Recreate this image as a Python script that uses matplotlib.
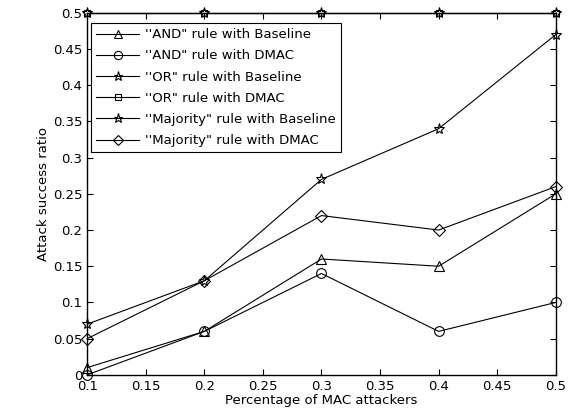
import matplotlib
matplotlib.use("Agg")
import matplotlib.pyplot as plt

# percentage of MAC attackers
x_vals = [0.1, 0.2, 0.3, 0.4, 0.5]

and_baseline = [0.01, 0.06, 0.16, 0.15, 0.25]
and_dmac = [0.0, 0.06, 0.14, 0.06, 0.10]
or_baseline = [0.5, 0.5, 0.5, 0.5, 0.5]
or_dmac = [0.5, 0.5, 0.5, 0.5, 0.5]
maj_baseline = [0.07, 0.13, 0.27, 0.34, 0.47]
maj_dmac = [0.05, 0.13, 0.22, 0.20, 0.26]

labels = ["''AND\" rule with Baseline", "''AND\" rule with DMAC",
          "''OR\" rule with Baseline", "''OR\" rule with DMAC",
          "''Majority\" rule with Baseline", "''Majority\" rule with DMAC"]

x_ticks = [0.1, 0.15, 0.2, 0.25, 0.3, 0.35, 0.4, 0.45, 0.5]
y_ticks = [0, 0.05, 0.1, 0.15, 0.2, 0.25, 0.3, 0.35, 0.4, 0.45, 0.5]

fig = plt.figure(figsize=(5.7, 4.16), dpi=100)
ax = fig.add_axes([0.153, 0.099, 0.822, 0.870])

series = [and_baseline, and_dmac, or_baseline, or_dmac, maj_baseline, maj_dmac]
markers = ['^', 'o', '*', 's', '*', 'D']
sizes = [7, 7, 8, 5, 8, 6]
for data, m, ms, lab in zip(series, markers, sizes, labels):
    ax.plot(x_vals, data, '-', color='k', lw=0.8, marker=m, ms=ms,
            mfc='none', mec='k', mew=0.8, label=lab, clip_on=False)

ax.set_xlim(0.1, 0.5)
ax.set_ylim(0, 0.5)
ax.set_xticks(x_ticks)
ax.set_xticklabels(['0.1', '0.15', '0.2', '0.25', '0.3', '0.35', '0.4', '0.45', '0.5'])
ax.set_yticks(y_ticks)
ax.set_yticklabels(['0', '0.05', '0.1', '0.15', '0.2', '0.25', '0.3', '0.35', '0.4', '0.45', '0.5'])
ax.tick_params(direction='in', top=True, right=True, labelsize=9.5, length=4)
for s in ax.spines.values():
    s.set_linewidth(1.0)

ax.set_xlabel('Percentage of MAC attackers', fontsize=9.5, labelpad=1)
ax.set_ylabel('Attack success ratio', fontsize=9.5, labelpad=2)

leg = ax.legend(loc='upper left', bbox_to_anchor=(0.0085, 0.972), fontsize=9.5,
                fancybox=False, edgecolor='k', framealpha=1, handlelength=3.2,
                borderpad=0.4, labelspacing=0.62, handletextpad=0.5,
                borderaxespad=0, markerscale=0.85)
leg.get_frame().set_linewidth(0.8)

fig.savefig('out.png', dpi=100)
